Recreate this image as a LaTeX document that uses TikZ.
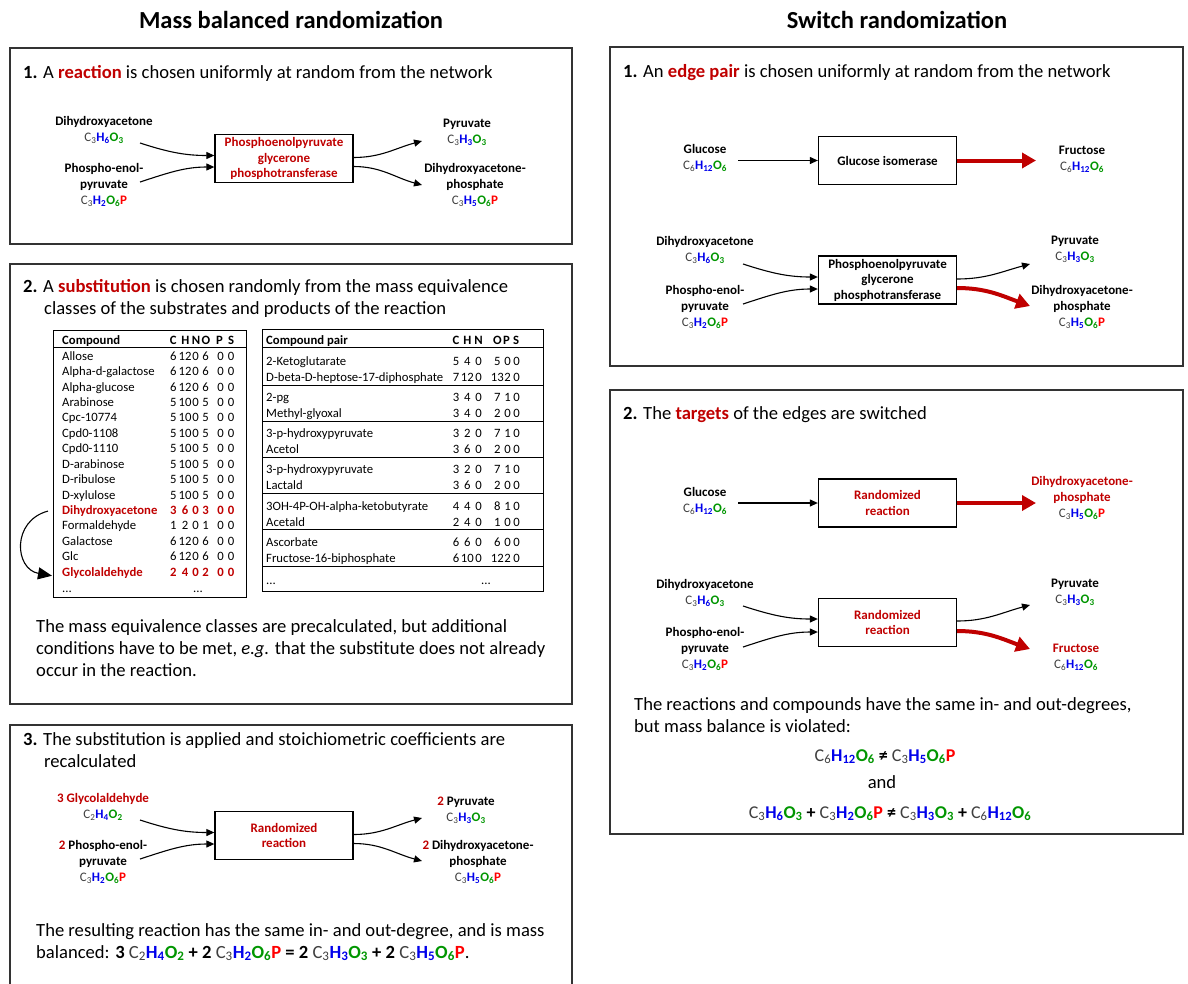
\documentclass[tikz,border=0pt]{standalone}
\usepackage{fontspec}
\setmainfont{Carlito}
\usetikzlibrary{arrows.meta}

\definecolor{dred}{RGB}{192,0,0}
\definecolor{hblue}{RGB}{0,0,235}
\definecolor{ogreen}{RGB}{0,150,0}
\definecolor{pred}{RGB}{255,0,0}
\definecolor{cgray}{RGB}{64,64,64}

% formula parts
\newcommand{\fmC}[1]{{\mdseries\color{cgray}C\textsubscript{#1}}}
\newcommand{\fmH}[1]{{\bfseries\color{hblue}H\textsubscript{#1}}}
\newcommand{\fmO}[1]{{\bfseries\color{ogreen}O\textsubscript{#1}}}
\newcommand{\fmP}{{\bfseries\color{pred}P}}
\newcommand{\redw}[1]{{\bfseries\color{dred}#1}}

\tikzset{
  ttl/.style={font=\fontsize{24.5}{29}\selectfont\bfseries, anchor=base},
  panel/.style={draw=black!80, line width=1.4pt},
  hd/.style={font=\fontsize{18.6}{21.6}\selectfont, anchor=base west, inner sep=0pt},
  eqn/.style={font=\fontsize{18}{21.6}\selectfont\bfseries, anchor=base, inner sep=0pt},
  cpd/.style={font=\fontsize{13}{16}\selectfont\bfseries, align=center, anchor=north, inner sep=0pt},
  rxn/.style={draw=black, line width=1.3pt, minimum width=138pt, minimum height=48pt,
    font=\fontsize{13}{15.5}\selectfont\bfseries, align=center, inner sep=2pt},
  arr/.style={-{Triangle[length=8pt,width=7pt]}, line width=1.1pt},
  redarr/.style={-{Triangle[length=14pt,width=15pt]}, line width=4pt, dred},
  tab/.style={font=\fontsize{12.7}{15}\selectfont, anchor=base, inner sep=0pt},
  tabhd/.style={font=\fontsize{12.7}{15}\selectfont\bfseries},
  cell/.style={},
  hit/.style={font=\fontsize{12.7}{15}\selectfont\bfseries, text=dred},
}

\begin{document}
\begin{tikzpicture}[x=1pt, y=-1pt]
    \fill[white] (0,0) rectangle (1188,983);
    \useasboundingbox (0,0) rectangle (1188,983);

    % Titles
    \node[ttl] (tl) at (291,28.5) {Mass balanced randomization};
    \node[ttl] (tr) at (897,28.5) {Switch randomization};

    % Panels
    \draw[panel] (10,48) rectangle (572,244);
    \draw[panel] (10,264) rectangle (572,704);
    \draw[panel] (10,995) -- (10,725) -- (572,725) -- (572,995);
    \draw[panel] (610,47) rectangle (1183,366);
    \draw[panel] (610,390) rectangle (1183,834);

    % Left panel 1
    \node[hd] (h1) at (23,78) {\textbf{1.} A \redw{reaction} is chosen uniformly at random from the network};
    \node[rxn, text=dred] (rA) at (284,158.5) {Phosphoenolpyruvate\\glycerone\\phosphotransferase};
    \node[cpd] (dhaA) at (104,116) {Dihydroxyacetone\\\fmC3\fmH6\fmO3};
    \node[cpd] (pepA) at (104,163) {Phospho-enol-\\pyruvate\\\fmC3\fmH2\fmO6\fmP};
    \node[cpd] (pyrA) at (467,119) {Pyruvate\\\fmC3\fmH3\fmO3};
    \node[cpd] (dhapA) at (475,163) {Dihydroxyacetone-\\phosphate\\\fmC3\fmH5\fmO6\fmP};
    \coordinate (tA1) at (140,143);
    \coordinate (tA2) at (140,182);
    \coordinate (eA1) at (422,141);
    \coordinate (eA2) at (422,185);
    \draw[arr] (tA1) to[out=-18, in=180] ([yshift=3pt]rA.west);
    \draw[arr] (tA2) to[out=18, in=180] ([yshift=-8.5pt]rA.west);
    \draw[arr] ([yshift=1pt]rA.east) to[out=0, in=195] (eA1);
    \draw[arr] ([yshift=-8pt]rA.east) to[out=0, in=165] (eA2);

    % Left panel 2
    \node[hd, align=left] (h2) at (23,314) {\textbf{2.} A \redw{substitution} is chosen randomly from the mass equivalence\\\hspace*{21pt}classes of the substrates and products of the reaction};

    % Table of compounds
    \draw[line width=0.9pt] (53,330) rectangle (246,597);
    \draw[line width=0.9pt] (53,347) -- (246,347);
    \node[tab, tabhd, anchor=base west] (cmphd) at (62,344.2) {Compound};
    \foreach \l/\xx [count=\k] in {C/173.3, H/185.5, N/196, O/206, P/219.5, S/231}
        \node[tab, tabhd] (cmphd-\k) at (\xx,344.2) {\l};
    \foreach \nm/\c/\h/\n/\o/\p/\s/\st [count=\i from 0] in {
        Allose/6/12/0/6/0/0/cell, Alpha-d-galactose/6/12/0/6/0/0/cell,
        Alpha-glucose/6/12/0/6/0/0/cell, Arabinose/5/10/0/5/0/0/cell,
        Cpc-10774/5/10/0/5/0/0/cell, Cpd0-1108/5/10/0/5/0/0/cell,
        Cpd0-1110/5/10/0/5/0/0/cell, D-arabinose/5/10/0/5/0/0/cell,
        D-ribulose/5/10/0/5/0/0/cell, D-xylulose/5/10/0/5/0/0/cell,
        Dihydroxyacetone/3/6/0/3/0/0/hit, Formaldehyde/1/2/0/1/0/0/cell,
        Galactose/6/12/0/6/0/0/cell, Glc/6/12/0/6/0/0/cell,
        Glycolaldehyde/2/4/0/2/0/0/hit}{
        \node[tab, \st, anchor=base west] (cmp\i) at (62,360.2+\i*15.43) {\nm};
        \foreach \v/\xx [count=\k] in {\c/173.3, \h/185, \n/195.5, \o/205.5, \p/220.5, \s/231}
            \node[tab, \st] (cmp\i-\k) at (\xx,360.2+\i*15.43) {\v};
    }
    \node[tab, anchor=base west] (cmpdots) at (62,592) {...};
    \node[tab] (cmpdots2) at (198,592) {...};
    \draw[-{Triangle[length=14pt,width=12pt]}, line width=1.1pt]
        ([xshift=-14pt]cmp10.west) to[out=195, in=170, looseness=1.5] ([xshift=-10pt,yshift=-3pt]cmp14.west);

    % Table of compound pairs
    \draw[line width=0.9pt] (262,329) rectangle (543,591);
    \draw[line width=0.9pt] (262,347) -- (543,347);
    \foreach \yy in {385,421.2,457.4,493.6,529.8,566}
        \draw[line width=0.9pt] (262,\yy) -- (543,\yy);
    \node[tab, tabhd, anchor=base west] (pairhd) at (266,344.2) {Compound pair};
    \foreach \l/\xx [count=\k] in {C/456, H/467.3, N/478.5, O/497.3, P/506.5, S/516}
        \node[tab, tabhd] (pairhd-\k) at (\xx,344.2) {\l};
    \foreach \yy/\nm/\c/\h/\n/\o/\p/\s [count=\i] in {
        361/2-Ketoglutarate/5/4/0/5/0/0,
        377/D-beta-D-heptose-17-diphosphate/7/12/0/13/2/0,
        397.2/2-pg/3/4/0/7/1/0,
        413.2/Methyl-glyoxal/3/4/0/2/0/0,
        433.4/3-p-hydroxypyruvate/3/2/0/7/1/0,
        449.4/Acetol/3/6/0/2/0/0,
        469.6/3-p-hydroxypyruvate/3/2/0/7/1/0,
        485.6/Lactald/3/6/0/2/0/0,
        505.8/3OH-4P-OH-alpha-ketobutyrate/4/4/0/8/1/0,
        521.8/Acetald/2/4/0/1/0/0,
        542/Ascorbate/6/6/0/6/0/0,
        558/Fructose-16-biphosphate/6/10/0/12/2/0}{
        \node[tab, anchor=base west] (pair\i) at (266,\yy+4.2) {\nm};
        \foreach \v/\xx [count=\k] in {\c/456, \h/467.3, \n/478.5, \o/497.3, \p/507.5, \s/516.5}
            \node[tab] (pair\i-\k) at (\xx,\yy+4.2) {\v};
    }
    \node[tab, anchor=base west] (pairdots) at (266,584) {...};
    \node[tab] (pairdots2) at (486,584) {...};

    \node[hd, align=left] (b2) at (36,676) {The mass equivalence classes are precalculated, but additional\\conditions have to be met, \textit{e.g.} that the substitute does not already\\occur in the reaction.};

    % Left panel 3
    \node[hd, align=left] (h3) at (23,767) {\textbf{3.} The substitution is applied and stoichiometric coefficients are\\\hspace*{21pt}recalculated};
    \node[rxn, text=dred] (rC) at (284,835.5) {Randomized\\reaction};
    \node[cpd] (glyC) at (103,793) {{\color{dred}3 Glycolaldehyde}\\\fmC2\fmH4\fmO2};
    \node[cpd] (pepC) at (103,840) {{\color{dred}2} Phospho-enol-\\pyruvate\\\fmC3\fmH2\fmO6\fmP};
    \node[cpd] (pyrC) at (466,797) {{\color{dred}2} Pyruvate\\\fmC3\fmH3\fmO3};
    \node[cpd] (dhapC) at (478,840) {{\color{dred}2} Dihydroxyacetone-\\phosphate\\\fmC3\fmH5\fmO6\fmP};
    \coordinate (tC1) at (140,820);
    \coordinate (tC2) at (140,859);
    \coordinate (eC1) at (422,818);
    \coordinate (eC2) at (422,861);
    \draw[arr] (tC1) to[out=-18, in=180] ([yshift=3pt]rC.west);
    \draw[arr] (tC2) to[out=18, in=180] ([yshift=-8.5pt]rC.west);
    \draw[arr] ([yshift=1pt]rC.east) to[out=0, in=195] (eC1);
    \draw[arr] ([yshift=-8pt]rC.east) to[out=0, in=165] (eC2);
    \node[hd, align=left] (b3) at (36,958) {The resulting reaction has the same in- and out-degree, and is mass\\balanced: \textbf{3} \fmC2\fmH4\fmO2 \textbf{+ 2} \fmC3\fmH2\fmO6\fmP{} \textbf{= 2} \fmC3\fmH3\fmO3 \textbf{+ 2} \fmC3\fmH5\fmO6\fmP.};

    % Right panel 1
    \node[hd] (h4) at (623,77) {\textbf{1.} An \redw{edge pair} is chosen uniformly at random from the network};
    \node[rxn] (rB1) at (887.5,160.5) {Glucose isomerase};
    \node[cpd] (glcB) at (705,144) {Glucose\\\fmC6\fmH{12}\fmO6};
    \node[cpd] (fruB) at (1082,146) {Fructose\\\fmC6\fmH{12}\fmO6};
    \coordinate (tB0) at (738,160.5);
    \coordinate (eB0) at (1036,160.5);
    \draw[arr] (tB0) -- (rB1.west);
    \draw[redarr] (rB1.east) -- (eB0);

    \node[rxn] (rB2) at (887.5,280) {Phosphoenolpyruvate\\glycerone\\phosphotransferase};
    \node[cpd] (dhaB) at (705,236) {Dihydroxyacetone\\\fmC3\fmH6\fmO3};
    \node[cpd] (pepB) at (705,285) {Phospho-enol-\\pyruvate\\\fmC3\fmH2\fmO6\fmP};
    \node[cpd] (pyrB) at (1075,236) {Pyruvate\\\fmC3\fmH3\fmO3};
    \node[cpd] (dhapB) at (1082,285) {Dihydroxyacetone-\\phosphate\\\fmC3\fmH5\fmO6\fmP};
    \coordinate (tB1) at (743,264);
    \coordinate (tB2) at (743,304);
    \coordinate (eB1) at (1030,264);
    \coordinate (eB2) at (1030,306);
    \draw[arr] (tB1) to[out=-18, in=180] ([yshift=3pt]rB2.west);
    \draw[arr] (tB2) to[out=18, in=180] ([yshift=-9pt]rB2.west);
    \draw[arr] ([yshift=1pt]rB2.east) to[out=0, in=195] (eB1);
    \draw[redarr] ([yshift=-8pt]rB2.east) to[out=0, in=160] (eB2);

    % Right panel 2
    \node[hd] (h5) at (623,419) {\textbf{2.} The \redw{targets} of the edges are switched};
    \node[rxn, text=dred] (rD1) at (887.5,503) {Randomized\\reaction};
    \node[cpd] (glcD) at (705,487) {Glucose\\\fmC6\fmH{12}\fmO6};
    \node[cpd] (dhapD) at (1082,476) {{\color{dred}Dihydroxyacetone-}\\{\color{dred}phosphate}\\\fmC3\fmH5\fmO6\fmP};
    \coordinate (tD0) at (738,503);
    \coordinate (eD0) at (1036,503);
    \draw[arr] (tD0) -- (rD1.west);
    \draw[redarr] (rD1.east) -- (eD0);

    \node[rxn, text=dred] (rD2) at (887.5,622.5) {Randomized\\reaction};
    \node[cpd] (dhaD) at (705,579) {Dihydroxyacetone\\\fmC3\fmH6\fmO3};
    \node[cpd] (pepD) at (705,627) {Phospho-enol-\\pyruvate\\\fmC3\fmH2\fmO6\fmP};
    \node[cpd] (pyrD) at (1075,579) {Pyruvate\\\fmC3\fmH3\fmO3};
    \node[cpd] (fruD) at (1076,644) {{\color{dred}Fructose}\\\fmC6\fmH{12}\fmO6};
    \coordinate (tD1) at (743,606);
    \coordinate (tD2) at (743,647);
    \coordinate (eD1) at (1030,605);
    \coordinate (eD2) at (1030,649);
    \draw[arr] (tD1) to[out=-18, in=180] ([yshift=3.5pt]rD2.west);
    \draw[arr] (tD2) to[out=18, in=180] ([yshift=-9.5pt]rD2.west);
    \draw[arr] ([yshift=1.5pt]rD2.east) to[out=0, in=195] (eD1);
    \draw[redarr] ([yshift=-8.5pt]rD2.east) to[out=0, in=160] (eD2);

    \node[hd, align=left] (b5) at (634,732) {The reactions and compounds have the same in- and out-degrees,\\but mass balance is violated:};
    \node[eqn] (eq1) at (885,761) {\fmC6\fmH{12}\fmO6 ≠ \fmC3\fmH5\fmO6\fmP};
    \node[hd, anchor=base] (eqand) at (882,788) {and};
    \node[eqn] (eq2) at (890,818) {\fmC3\fmH6\fmO3 + \fmC3\fmH2\fmO6\fmP{} ≠ \fmC3\fmH3\fmO3 + \fmC6\fmH{12}\fmO6};
\end{tikzpicture}
\end{document}
